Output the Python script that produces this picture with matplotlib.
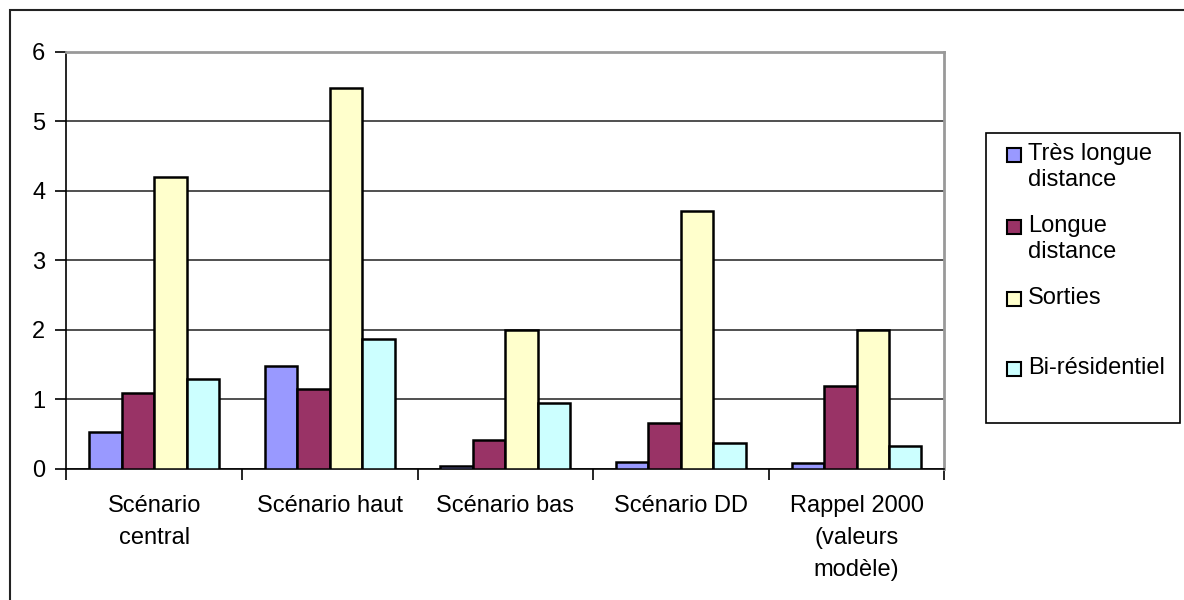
import numpy as np
import matplotlib
matplotlib.use('Agg')
from matplotlib import pyplot as plt
from matplotlib.patches import Rectangle

plt.rcParams['font.family'] = ['Liberation Sans', 'DejaVu Sans']

scenarios = ['Scénario\ncentral', 'Scénario haut', 'Scénario bas', 'Scénario DD',
             'Rappel 2000\n(valeurs\nmodèle)']
series_names = ['Très longue\ndistance', 'Longue\ndistance', 'Sorties', 'Bi-résidentiel']
tres_longue = [0.52, 1.48, 0.04, 0.10, 0.08]
longue = [1.09, 1.15, 0.41, 0.65, 1.19]
sorties = [4.19, 5.48, 2.00, 3.70, 2.00]
bi_residentiel = [1.29, 1.86, 0.95, 0.37, 0.32]
colors = ['#9999FF', '#993366', '#FFFFCC', '#CCFFFF']

W, H = 1184, 600
fs = 17
fig = plt.figure(figsize=(W / 100, H / 100), dpi=100)

# outer chart frame (runs off the right and bottom edges)
fig.add_artist(Rectangle((10 / W, -0.05), 1.1, 1 - 10 / H + 0.05,
                         transform=fig.transFigure, fill=False,
                         edgecolor='#222222', lw=1.5))

ax = fig.add_axes([66.3 / W, 1 - 468.5 / H, (944.3 - 66.3) / W, (468.5 - 51.7) / H])

w = 0.185
x = np.arange(len(scenarios)) + 0.5
for j, vals in enumerate([tres_longue, longue, sorties, bi_residentiel]):
    ax.bar(x + (j - 1.5) * w, vals, width=w, color=colors[j],
           edgecolor='black', linewidth=1.8, zorder=3)

ax.set_xlim(0, 5)
ax.set_ylim(0, 6)
ax.set_yticks(range(0, 7))
ax.yaxis.grid(True, color='#202020', linewidth=1.1, zorder=0)
ax.set_axisbelow(True)

ax.set_xticks(range(0, 6))
ax.set_xticklabels([])
ax.set_xticks(x, minor=True)
ax.set_xticklabels(scenarios, minor=True, fontsize=fs, linespacing=1.6,
                   va='top')
ax.tick_params(axis='x', which='minor', length=0, pad=19)
ax.tick_params(axis='x', which='major', length=8, width=1.2, direction='out')
ax.tick_params(axis='y', length=8, width=1.2, labelsize=fs, pad=7)

for s in ['left', 'bottom']:
    ax.spines[s].set_color('black')
    ax.spines[s].set_linewidth(1.2)
for s in ['top', 'right']:
    ax.spines[s].set_color('#999999')
    ax.spines[s].set_linewidth(2)

# legend box drawn by hand
fig.add_artist(Rectangle((986 / W, 1 - 423 / H), (1180 - 986) / W, (423 - 133) / H,
                         transform=fig.transFigure, fill=False,
                         edgecolor='black', lw=1.2))
row_y = [155, 227, 299, 369]
for name, c, y in zip(series_names, colors, row_y):
    fig.add_artist(Rectangle((1007 / W, 1 - (y + 7) / H), 14 / W, 14 / H,
                             transform=fig.transFigure, facecolor=c,
                             edgecolor='black', lw=1.5))
    fig.text(1028 / W, 1 - (y - 12) / H, name, fontsize=fs, va='top',
             ha='left', linespacing=1.25)

fig.savefig('out.png', dpi=100)
